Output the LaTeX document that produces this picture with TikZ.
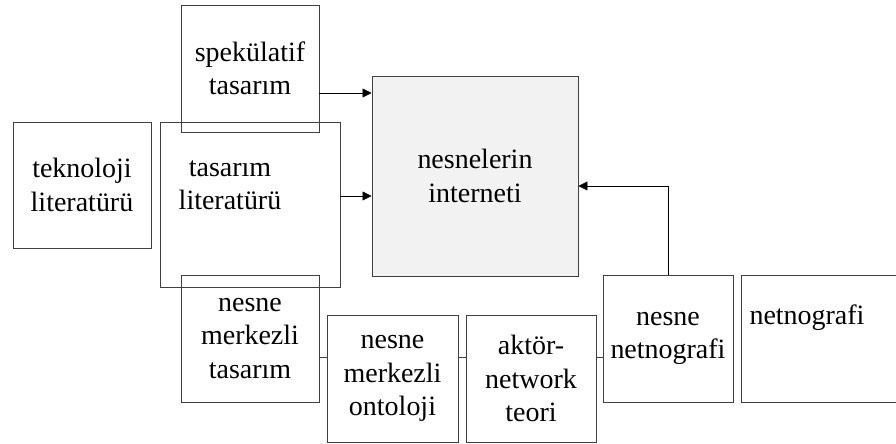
\documentclass[tikz,border=0pt]{standalone}
\usepackage{fontspec}
\setmainfont{Liberation Serif}
\usetikzlibrary{arrows.meta}

\begin{document}
\begin{tikzpicture}[x=0.025cm,y=-0.025cm,>={Triangle[length=6.4pt,width=6.4pt]},
    kutu/.style 2 args={draw=black!75,line width=0.7pt,minimum width=#1*0.025cm,
        minimum height=#2*0.025cm,inner sep=0pt,align=center,
        font=\fontsize{19.9}{23.8}\selectfont},
    yazi/.style={inner sep=0pt,align=center,font=\fontsize{19.9}{23.8}\selectfont}]
    \clip (0,0) rectangle (896,444);
    % kutular
    \node[kutu={206}{200},fill=black!5] (iot) at (475,176) {nesnelerin\\interneti};
    \node[kutu={138}{126}] (tekno) at (82,185) {teknoloji\\literatürü};
    \node[kutu={180}{165}] (tlit) at (250,204.5) {};
    \node[yazi] (tlityazi) at (230,185.5) {tasarım\\literatürü};
    \node[kutu={138}{127}] (spek) at (250,68.5) {spekülatif\\tasarım};
    \node[kutu={138}{127}] (nmt) at (250,338.5) {nesne\\merkezli\\tasarım};
    \node[kutu={131}{127}] (nmo) at (392.5,378.5) {nesne\\merkezli\\ontoloji};
    \node[kutu={130}{127}] (ant) at (531,378.5) {aktör-\\network\\teori};
    \node[kutu={130}{127}] (nnet) at (668,338.5) {nesne\\netnografi};
    \node[kutu={169}{127}] (netno) at (825.5,338.5) {};
    \node[yazi,anchor=base] (netnoyazi) at (807,325) {netnografi};
    % oklar
    \draw[->] (spek.east |- 0,93) -- (iot.west |- 0,93);
    \draw[->] (tlit.east |- 0,196) -- (iot.west |- 0,196);
    \draw[->] (nnet.north) |- (iot.east |- 0,186);
    % baglanti cizgileri
    \draw[black!75] (nmt.east |- 0,357) -- (nmo.west |- 0,357);
    \draw[black!75] (nmo.east |- 0,357) -- (ant.west |- 0,357);
    \draw[black!75] (ant.east |- 0,357) -- (nnet.west |- 0,357);
\end{tikzpicture}
\end{document}
